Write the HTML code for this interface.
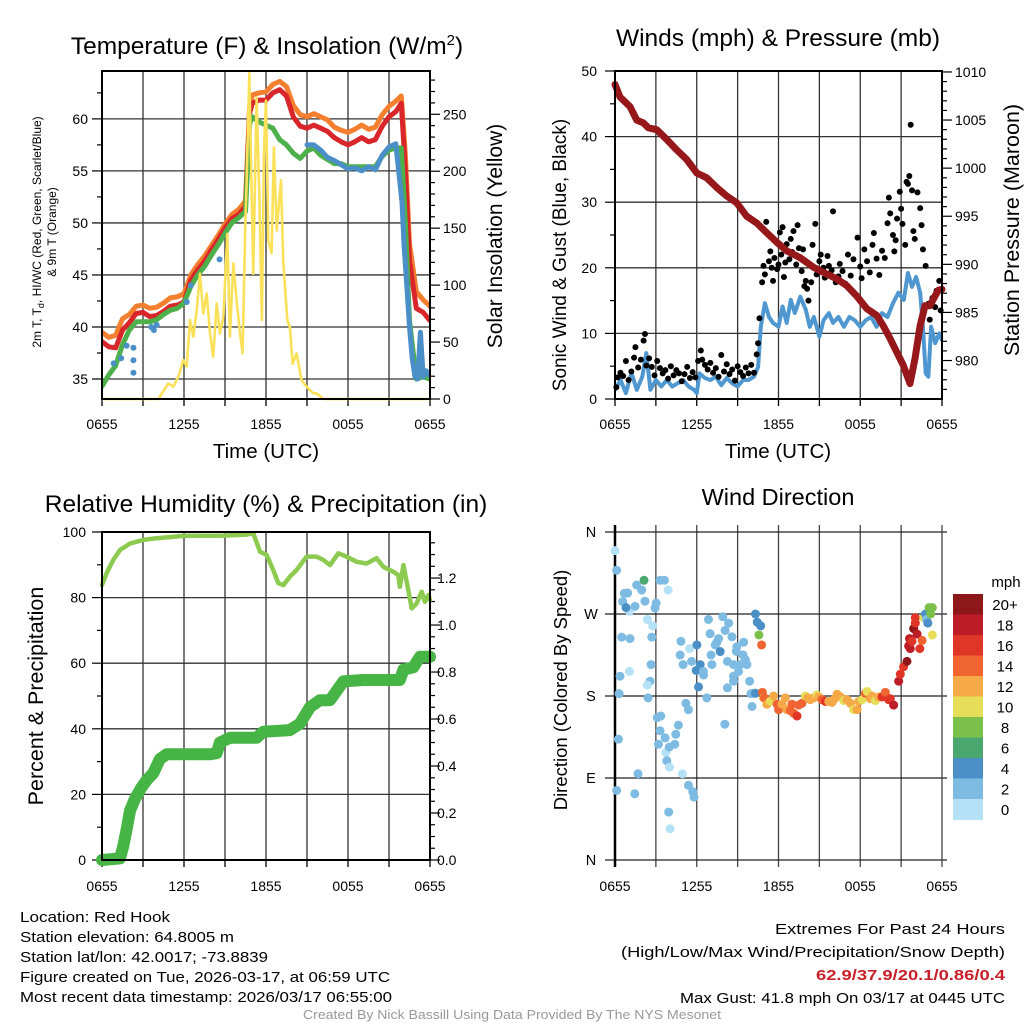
<!DOCTYPE html>
<html><head><meta charset="utf-8"><style>
html,body{margin:0;padding:0;background:#fff}
svg{display:block;font-family:"Liberation Sans",sans-serif}
</style></head><body>
<svg id="fig" width="1024" height="1024" viewBox="0 0 1024 1024" xmlns="http://www.w3.org/2000/svg">
<g id="g1"></g>
<g id="g2"></g>
<g id="g3"></g>
<g id="g4"></g>
<g font-size="15" fill="#000">
<text x="20" y="922" textLength="150" lengthAdjust="spacingAndGlyphs">Location: Red Hook</text>
<text x="20" y="942" textLength="214" lengthAdjust="spacingAndGlyphs">Station elevation: 64.8005 m</text>
<text x="20" y="962" textLength="248" lengthAdjust="spacingAndGlyphs">Station lat/lon: 42.0017; -73.8839</text>
<text x="20" y="982" textLength="370" lengthAdjust="spacingAndGlyphs">Figure created on Tue, 2026-03-17, at 06:59 UTC</text>
<text x="20" y="1002" textLength="372" lengthAdjust="spacingAndGlyphs">Most recent data timestamp: 2026/03/17 06:55:00</text>
</g>
<g font-size="15">
<text x="775" y="934" textLength="230" lengthAdjust="spacingAndGlyphs">Extremes For Past 24 Hours</text>
<text x="621" y="957" textLength="384" lengthAdjust="spacingAndGlyphs">(High/Low/Max Wind/Precipitation/Snow Depth)</text>
<text x="816" y="980" textLength="189" lengthAdjust="spacingAndGlyphs" fill="#c8202a" font-weight="bold">62.9/37.9/20.1/0.86/0.4</text>
<text x="680" y="1003" textLength="325" lengthAdjust="spacingAndGlyphs">Max Gust: 41.8 mph On 03/17 at 0445 UTC</text>
</g>
<text x="303" y="1019" font-size="12.5" fill="#999" textLength="418" lengthAdjust="spacingAndGlyphs">Created By Nick Bassill Using Data Provided By The NYS Mesonet</text>
</svg>
<script>
// ---------- Panel 1 data ----------
const tempHours=[0,0.5,1,1.5,2,2.5,3,3.5,4,4.5,5,5.5,6,6.5,7,7.5,8,8.5,9,9.5,10,10.5,10.8,11,11.5,12,12.5,13,13.5,14,14.5,15,15.5,16,16.5,17,17.5,18,18.5,19,19.5,20,20.5,21,21.5,21.9,22.2,22.5,23,23.5,24];
const temp2m=[38.6,38.1,38.0,39.7,40.4,41.3,41.4,41.0,41.1,41.5,42.0,42.1,42.4,44.5,45.5,46.3,47.4,48.4,49.5,50.4,50.8,51.6,60.5,61.5,61.8,61.8,62.5,62.8,62.2,60.2,59.3,59.1,59.4,59.1,58.8,58.2,57.8,57.5,57.8,58.2,57.8,58.0,59.3,60.2,60.7,61.5,55.0,46.4,41.8,41.4,40.6];
const temp9m=[39.5,39.0,39.2,40.8,41.2,42.0,42.1,41.8,41.9,42.3,42.8,42.9,43.2,45.0,46.0,46.8,47.8,48.8,49.9,50.8,51.3,52.1,61.2,62.3,62.5,62.6,63.3,63.6,63.1,61.3,60.4,60.2,60.5,60.2,59.9,59.2,58.9,58.7,59.0,59.4,59.0,59.2,60.4,61.2,61.7,62.2,56.5,48.0,43.4,42.6,42.0];
const tempHI=[34.3,35.4,36.3,38.3,39.7,40.5,40.5,40.5,40.7,41.2,41.6,41.8,42.3,43.9,45.0,45.8,46.9,47.9,49.0,50.0,50.5,51.1,59.5,60.2,59.7,59.4,59.1,58.0,57.5,56.7,56.2,56.9,57.2,56.5,56.1,55.7,55.7,55.4,55.4,55.4,55.4,55.4,56.4,57.0,57.2,57.2,50.0,40.6,35.0,35.2,35.0];
const wcDotHours=[0.85,1.4,1.8,2.3,2.3,2.3,3.6,3.8,4.0,6.2,6.5,8.6];
const wcDotTemps=[36.5,37.0,38.2,38.0,36.8,35.6,40.0,39.7,40.2,42.4,44.0,46.5];
const wcLineHours=[15.0,15.5,16.0,16.5,17.0,17.5,18.0,18.5,19.0,19.5,20.0,20.5,21.0,21.5,21.95,22.1,22.3,22.5,22.7,22.9,23.1,23.3,23.5,23.7,24];
const wcLineTemps=[57.5,57.5,57.0,56.3,56.0,55.6,55.2,55.3,55.0,55.4,55.1,56.5,57.3,57.6,52.0,48.0,44.0,40.0,37.0,35.2,35.0,39.5,35.2,35.8,35.3];
const solarHours=[0,4.12,4.85,5.22,5.58,5.95,6.2,6.44,6.68,6.93,7.17,7.41,7.66,7.9,8.14,8.39,8.63,8.88,9.17,9.36,9.61,9.85,10.1,10.29,10.49,10.58,10.78,11.07,11.31,11.51,11.7,11.85,12.0,12.17,12.41,12.58,12.78,13.1,13.26,13.56,13.75,13.95,14.24,14.6,14.97,15.46,15.7,16.19,24];
const solarVals=[0,0,13.7,10.8,19.6,34.2,28.4,69.3,54.7,78,110,75,92.7,57.6,37.1,83.9,57.6,72.2,145,54.7,119,86.8,57.6,40,157,189,286,110,265,180,69.3,215,262,139,128,221,148,192,122,69.3,63,31,40,16.7,10.8,5,5,0,0];
const p1XTicks=['0655','1255','1855','0055','0655'];
const p1LeftTicks=[35,40,45,50,55,60];
const p1RightTicks=[0,50,100,150,200,250];
// ---------- Panel 2 data ----------
const presHours=[0,0.37,1.1,1.59,2.08,2.45,3.06,3.79,4.53,5.26,6.0,6.73,7.46,8.2,8.93,9.66,10.4,11.13,11.87,12.6,13.58,14.56,15.54,16.27,17.0,17.74,18.47,19.2,19.69,20.18,20.67,21.16,21.65,22.02,22.39,22.75,23.12,23.37,23.73,24];
const presVals=[1008.7,1007.4,1006.4,1005.0,1004.7,1004.2,1004.0,1003.0,1001.9,1000.9,999.5,999.0,998.0,997.1,996.4,995.0,994.3,993.3,992.3,991.4,990.7,989.7,989.0,988.5,987.8,986.7,985.4,984.7,983.6,982.3,980.9,979.5,977.6,980.2,983.6,985.7,985.7,986.4,987.3,987.4];
const windHours=[0,0.4,0.8,1.2,1.6,2.0,2.3,2.6,3.0,3.4,3.8,4.2,4.6,5.0,5.4,5.8,6.0,6.2,6.6,7.0,7.4,7.8,8.2,8.6,9.0,9.4,9.8,10.2,10.5,10.7,11.0,11.3,11.6,12.0,12.3,12.6,12.9,13.2,13.6,14.0,14.3,14.6,15.0,15.3,15.7,16.0,16.4,16.8,17.2,17.6,18.0,18.4,18.8,19.2,19.6,20.0,20.4,20.8,21.2,21.5,21.8,22.1,22.4,22.6,22.8,23.0,23.2,23.5,23.8,24];
const windVals=[1.4,2.9,0.9,4.0,1.4,3.4,7.0,1.4,2.9,1.9,2.9,1.9,2.4,2.9,1.9,1.4,0.9,3.9,3.2,2.9,3.4,2.1,3.2,2.4,1.9,2.9,2.9,3.4,4.9,11.0,14.6,12.5,11.6,11.0,14.1,11.6,15.1,13.1,15.6,13.6,11.0,12.5,9.5,12.0,13.1,11.6,12.5,11.0,12.5,12.0,11.0,12.0,12.5,11.0,13.1,12.5,14.6,16.2,15.1,19.2,17.1,18.6,16.2,11.0,3.9,3.4,11.0,8.5,10.0,9.0];
const gustHours=[0.1,0.2,0.4,0.6,0.8,1.0,1.2,1.4,1.5,1.7,1.9,2.1,2.2,2.3,2.5,2.7,2.9,3.1,3.3,3.5,3.7,3.9,4.1,4.3,4.5,4.7,4.9,5.1,5.3,5.5,5.7,5.9,6.1,6.3,6.4,6.6,6.8,7.0,7.2,7.4,7.6,7.8,8.0,8.2,8.4,8.6,8.8,9.0,9.2,9.4,9.6,9.8,10.0,10.2,10.4,10.5,10.6,10.8,10.9,11.0,11.1,11.3,11.4,11.5,11.6,11.7,11.9,12.0,12.1,12.2,12.3,12.4,12.5,12.6,12.8,12.9,13.0,13.1,13.3,13.4,13.5,13.7,13.8,13.9,14.0,14.1,14.2,14.3,14.4,14.5,14.7,14.8,15.0,15.1,15.2,15.3,15.4,15.6,15.7,15.9,16.0,16.2,16.4,16.5,16.7,16.9,17.1,17.3,17.5,17.8,18.0,18.1,18.3,18.5,18.7,18.9,19.0,19.2,19.4,19.6,19.8,20.0,20.1,20.2,20.4,20.5,20.6,20.7,20.9,21.0,21.1,21.3,21.4,21.5,21.6,21.7,21.8,21.9,22.0,22.2,22.4,22.5,22.6,22.8,23.0,23.1,23.3,23.5,23.6,23.8,23.9];
const gustVals=[1.8,3.3,4.0,3.5,5.8,2.9,4.2,6.3,7.9,4.8,6.0,8.9,9.9,5.1,6.2,4.9,3.6,5.8,4.7,3.9,4.4,3.1,5.0,3.6,4.4,3.9,2.7,3.8,4.9,3.2,4.1,3.3,5.8,7.4,6.0,5.2,4.5,5.5,4.0,4.7,3.4,6.7,4.2,5.3,3.8,4.5,2.8,5.0,4.1,3.5,4.8,3.9,5.2,4.0,6.8,8.5,12.3,17.8,20.3,19.0,27.0,21.0,22.5,20.0,18.0,21.5,19.8,20.5,25.4,22.0,26.2,18.6,20.8,23.6,21.3,24.4,22.4,25.6,20.5,26.5,23.0,19.5,22.8,17.2,18.0,16.8,15.0,20.5,17.8,23.5,26.7,19.0,21.0,22.0,19.5,20.0,18.5,21.8,20.3,19.6,28.6,17.8,18.7,20.6,19.5,17.6,22.0,18.8,21.3,24.6,20.2,18.4,22.8,21.0,19.3,23.5,25.3,21.4,18.9,22.6,21.5,26.8,30.7,28.3,25.0,22.5,24.2,27.5,31.6,29.0,26.7,23.5,33.1,32.8,34.0,41.8,31.8,25.6,24.4,31.5,29.1,26.5,22.8,20.3,14.5,12.1,15.4,14.0,16.5,18.0,13.5];
const p2LeftTicks=[0,10,20,30,40,50];
const p2RightTicks=[980,985,990,995,1000,1005,1010];
// ---------- Panel 3 data ----------
const rhHours=[0,0.34,0.83,1.32,2.05,3.02,4.0,5.95,8.88,10.58,11.07,11.56,12.05,12.53,12.9,13.27,13.75,14.24,14.97,15.7,16.19,16.68,17.29,17.9,18.63,19.36,20.09,20.58,21.31,21.68,21.8,22.05,22.41,22.66,23.02,23.39,23.63,23.88,24];
const rhVals=[83.8,87.4,91.5,94.5,96.5,97.6,98.1,98.8,98.9,99.2,99.6,94.0,93.0,88.4,84.4,83.8,86.4,88.4,92.5,92.5,91.5,89.9,93.5,92.5,90.9,90.4,92.0,89.4,87.9,86.9,83.3,89.9,82.3,76.7,78.2,81.8,78.7,80.8,79.3];
const pcpHours=[0,1.32,1.56,1.8,2.05,2.41,2.9,3.27,3.75,4.24,4.73,6.44,7.9,8.39,8.63,9.36,11.31,11.8,13.75,14.48,15.21,15.94,16.68,17.17,17.66,19.12,21.8,22.05,22.78,23.26,24];
const pcpVals=[0,0.007,0.06,0.13,0.21,0.26,0.31,0.34,0.37,0.43,0.45,0.45,0.45,0.455,0.50,0.52,0.52,0.546,0.553,0.58,0.65,0.68,0.68,0.72,0.76,0.766,0.766,0.81,0.82,0.865,0.865];
const p3LeftTicks=[0,20,40,60,80,100];
const p3RightTicks=[0,0.2,0.4,0.6,0.8,1.0,1.2];
// ---------- Panel 4 data ----------
const dirHours=[0.0,0.12,0.56,0.69,0.93,1.06,0.81,1.47,1.59,1.96,2.13,2.2,2.37,0.49,1.1,1.06,0.37,0.3,0.25,0.12,1.45,1.69,2.43,2.57,2.37,2.65,2.7,2.77,3.02,2.94,3.11,3.36,3.19,3.31,3.68,3.73,3.8,3.99,3.94,4.04,3.31,3.63,3.9,4.0,4.39,4.46,4.65,4.84,4.78,5.0,5.2,5.39,4.95,5.39,5.71,5.8,5.47,5.62,5.96,6.13,6.01,6.25,6.49,6.5,6.74,6.86,6.98,7.11,7.05,7.36,7.48,7.6,7.72,7.91,8.08,8.25,8.25,8.06,8.34,8.58,8.7,8.7,8.7,8.9,8.94,9.07,9.19,9.39,9.44,9.56,9.68,9.88,9.98,10.06,10.19,10.31,10.31,10.44,10.69,10.56,10.76,10.82,10.9,10.97,11.15,11.4,11.64,11.89,12.01,12.26,12.5,12.62,12.87,12.99,13.11,13.36,13.48,13.72,13.97,14.15,14.33,14.58,14.82,14.95,15.19,15.44,15.68,15.93,16.05,16.3,16.55,16.79,17.03,17.28,17.52,17.77,17.89,18.13,18.38,18.5,18.74,18.87,19.11,19.36,19.6,19.84,20.09,20.21,20.45,20.82,20.94,21.18,21.43,21.55,21.62,21.67,21.8,21.92,22.04,22.04,22.17,22.37,22.54,22.66,22.78,22.86,22.96,23.05,23.17,23.29,23.29,23.33,23.47,23.57,23.66,23.51];
const dirDegs=[339.5,318,283.6,292.7,293,273,277,278.4,301.8,296.3,307,284,264,244.6,243,207,201.7,182.6,132.6,76.3,72.7,94.6,178,196.2,192,214.5,244.6,257,282,276.6,156.3,158,127,141.8,134,118,109,124,52.6,34.3,307,307,296.3,101.9,127,138,148,240,225,214.5,172,165,94.6,82,75,69,232,218,208,190,236,214.5,207,203,178,264,248.4,214.5,225,236,239,243,228.8,267,252,218,189,149,260,245,214.5,196.2,201.7,229,234,207,214.5,225,239,220,214.5,196.2,182.6,168.5,183,183,270,261,257,247,236,184,178,178,171,174.5,180,171,165,171,178,165,164,171,161,158,170,172,180,178,176,178,181,179,176,174,174,173,176,182,179,175,176,172,165,165,174,176,183,185,177,180,175,179,179,184,176,177,170,196.2,204,212,218,235,243,232,240,254,260,266,248,232,241,266,270,264,260,277,270,247,277];
const dirSpeeds=[0,2,2,2,2,0,4,2,2,2,6,2,0,2,2,0,2,2,2,2,2,2,2,2,0,2,2,0,2,2,2,2,2,2,2,0,2,2,2,0,2,2,0,0,2,2,2,2,2,2,2,2,0,2,2,2,0,2,4,4,4,4,2,2,2,2,2,2,2,2,2,2,4,2,2,2,2,2,2,2,2,2,2,2,2,2,2,2,2,2,2,2,2,2,2,4,4,4,4,8,14,14,12,14,12,10,12,14,14,12,12,12,14,14,14,16,14,14,10,12,12,12,10,12,14,16,12,12,12,12,12,10,12,12,10,12,12,10,14,10,12,12,10,12,16,14,16,16,18,18,16,16,20,18,18,18,16,20,16,16,18,16,14,10,4,2,4,8,8,10,8,10,8];
const speedBins=['0','2','4','6','8','10','12','14','16','18','20+'];
const speedColors=['#b5e1f6','#7ebbe3','#4a90c7','#4aa86e','#7cc04c','#e6de58','#f6a947','#ef6430','#df3627','#bd1d26','#8e1719'];
const dirLabels=['N','E','S','W','N'];

// ---------- helpers ----------
const NS='http://www.w3.org/2000/svg';
function mk(parent,tag,attrs){const e=document.createElementNS(NS,tag);for(const k in attrs)e.setAttribute(k,attrs[k]);parent.appendChild(e);return e;}
function lin(d0,d1,r0,r1){return v=>r0+(v-d0)/(d1-d0)*(r1-r0);}
function pathD(xs,ys,fx,fy){const n=Math.min(xs.length,ys.length);let s='';for(let i=0;i<n;i++){s+=(i?'L':'M')+fx(xs[i]).toFixed(1)+','+fy(ys[i]).toFixed(1);}return s;}
function txt(parent,x,y,s,size,anchor,extra){const t=mk(parent,'text',Object.assign({x:x,y:y,'font-size':size,'text-anchor':anchor||'middle'},extra||{}));t.textContent=s;return t;}

function frame(g,b,vgrid,hgridPx){
  const grid=mk(g,'g',{});
  
  
  vgrid.forEach(x=>mk(grid,'line',{x1:x,x2:x,y1:b.y0,y2:b.y1,stroke:'#333','stroke-width':1.3}));
  hgridPx.forEach(y=>mk(grid,'line',{x1:b.x0,x2:b.x1,y1:y,y2:y,stroke:'#333','stroke-width':1.3}));
  vgrid.concat([b.x0,b.x1]).forEach(x=>mk(grid,'line',{x1:x,x2:x,y1:b.y1,y2:b.y1+7,stroke:'#000','stroke-width':1.3}));
}
function box(g,b){const r=mk(g,'rect',{x:b.x0,y:b.y0,width:b.x1-b.x0,height:b.y1-b.y0,fill:'none',stroke:'#000','stroke-width':2});
  
  }
function xLabels(g,b,fx,yy){
  const gx=mk(g,'g',{});
  
  
  p1XTicks.forEach((s,i)=>txt(gx,fx(i*6),yy,s,14));
}
function vticks(g,b){const a=[];for(let h=3;h<24;h+=3)a.push(b.fx(h));return a;}

// ---------- Panel 1 ----------
(function(){
  const g=document.getElementById('g1');
  const b={x0:102,x1:430,y0:71,y1:399};
  b.fx=lin(0,24,b.x0,b.x1);
  const fy=lin(33.08,64.6,b.y1,b.y0), fr=lin(0,288,b.y1,b.y0);
  frame(g,b,vticks(g,b),p1LeftTicks.map(fy));
  const tk=mk(g,'g',{stroke:'#000','stroke-width':1.2});
  
  
  for(let v=35;v<=64;v+=2.5){const y=fy(v);const maj=v%5===0;mk(tk,'line',{x1:b.x0-(maj?10:5),x2:b.x0,y1:y,y2:y});}
  for(let v=0;v<=280;v+=10){const y=fr(v);const maj=v%50===0;mk(tk,'line',{x1:b.x1,x2:b.x1+(maj?10:5),y1:y,y2:y});}
  const cp=mk(g,'clipPath',{id:'c1'});mk(cp,'rect',{x:b.x0,y:b.y0-2,width:b.x1-b.x0,height:b.y1-b.y0+4});
  const lc=mk(g,'g',{fill:'none','stroke-linejoin':'round','stroke-linecap':'round'});
  lc.setAttribute('clip-path','url(#c1)');
  let e;
  e=mk(lc,'path',{d:pathD(tempHours,temp9m,b.fx,fy),stroke:'#f47f2f','stroke-width':5});
  
  
  e=mk(lc,'path',{d:pathD(tempHours,temp2m,b.fx,fy),stroke:'#d8262a','stroke-width':5});
  
  
  e=mk(lc,'path',{d:pathD(tempHours,tempHI,b.fx,fy),stroke:'#4db04a','stroke-width':5});
  
  
  const wc=mk(lc,'g',{fill:'#4a8fc8'});
  
  
  wcDotHours.forEach((h,i)=>mk(wc,'circle',{cx:b.fx(h),cy:fy(wcDotTemps[i]),r:3}));
  const wcl=mk(lc,'path',{d:pathD(wcLineHours,wcLineTemps,b.fx,fy),stroke:'#4a8fc8','stroke-width':5});
  
  
  e=mk(lc,'path',{d:pathD(solarHours,solarVals,b.fx,fr),stroke:'#fbe15a','stroke-width':2.6});
  
  
  box(g,b);
  const ly=mk(g,'g',{});
  p1LeftTicks.forEach(v=>txt(ly,88,fy(v)+5,String(v),14,'end'));
  const ry=mk(g,'g',{});
  p1RightTicks.forEach(v=>txt(ry,443,fr(v)+5,String(v),14,'start'));
  xLabels(g,b,b.fx,429);
  const t=mk(g,'text',{x:267,y:54,'font-size':24.5,'text-anchor':'middle'});
  
  t.innerHTML='Temperature (F) &amp; Insolation (W/m<tspan dy="-9" font-size="15">2</tspan><tspan dy="9">)</tspan>';
  e=txt(g,266,458,'Time (UTC)',20.5);
  e=mk(g,'text',{x:0,y:0,'font-size':12,'text-anchor':'middle',transform:'translate(41,232) rotate(-90)'});
  e.innerHTML='2m T, T<tspan dy="3" font-size="9">d</tspan><tspan dy="-3">, HI/WC (Red, Green, Scarlet/Blue)</tspan>';
  
  e=txt(g,0,0,'& 9m T (Orange)',12,'middle',{transform:'translate(56,232) rotate(-90)'});
  
  e=txt(g,0,0,'Solar Insolation (Yellow)',21,'middle',{transform:'translate(502,236) rotate(-90)'});
  
})();

// ---------- Panel 2 ----------
(function(){
  const g=document.getElementById('g2');
  const b={x0:615,x1:942,y0:71,y1:399};
  b.fx=lin(0,24,b.x0,b.x1);
  const fy=lin(0,50,b.y1,b.y0), fp=lin(976,1010.1,b.y1,b.y0);
  frame(g,b,vticks(g,b),[10,20,30,40].map(fy));
  const tk=mk(g,'g',{stroke:'#000','stroke-width':1.2});
  
  for(let v=0;v<=50;v+=5){const y=fy(v);const maj=v%10===0;mk(tk,'line',{x1:b.x0-(maj?10:5),x2:b.x0,y1:y,y2:y});}
  for(let v=977;v<=1010;v+=1){const y=fp(v);const maj=v%5===0;mk(tk,'line',{x1:b.x1,x2:b.x1+(maj?10:5),y1:y,y2:y});}
  const cp=mk(g,'clipPath',{id:'c2'});mk(cp,'rect',{x:b.x0,y:b.y0,width:b.x1-b.x0,height:b.y1-b.y0});
  const lc=mk(g,'g',{fill:'none','stroke-linejoin':'round','stroke-linecap':'round','clip-path':'url(#c2)'});
  let e=mk(lc,'path',{d:pathD(windHours,windVals,b.fx,fy),stroke:'#4f97d0','stroke-width':4});
  
  const gd=mk(g,'g',{fill:'#000'});
  
  const ng=Math.min(gustHours.length,gustVals.length);
  for(let i=0;i<ng;i++)mk(gd,'circle',{cx:b.fx(gustHours[i]),cy:fy(gustVals[i]),r:3});
  e=mk(g,'path',{d:pathD(presHours,presVals,b.fx,fp),stroke:'#96181a','stroke-width':7,fill:'none','stroke-linejoin':'round','stroke-linecap':'round'});
  
  box(g,b);
  const ly=mk(g,'g',{});
  p2LeftTicks.forEach(v=>txt(ly,597,fy(v)+5,String(v),14,'end'));
  const ry=mk(g,'g',{});
  p2RightTicks.forEach(v=>txt(ry,955,fp(v)+5,String(v),14,'start'));
  xLabels(g,b,b.fx,429);
  e=txt(g,778,46,'Winds (mph) & Pressure (mb)',24.5);
  e=txt(g,778,458,'Time (UTC)',20.5);
  e=txt(g,0,0,'Sonic Wind & Gust (Blue, Black)',19,'middle',{transform:'translate(566,255) rotate(-90)'});
  
  e=txt(g,0,0,'Station Pressure (Maroon)',21.5,'middle',{transform:'translate(1019,230) rotate(-90)'});
  
})();

// ---------- Panel 3 ----------
(function(){
  const g=document.getElementById('g3');
  const b={x0:102,x1:430,y0:532,y1:860};
  b.fx=lin(0,24,b.x0,b.x1);
  const fy=lin(0,100,b.y1,b.y0), fr=lin(0,1.396,b.y1,b.y0);
  frame(g,b,vticks(g,b),[20,40,60,80].map(fy));
  const tk=mk(g,'g',{stroke:'#000','stroke-width':1.2});
  
  for(let v=0;v<=100;v+=10){const y=fy(v);const maj=v%20===0;mk(tk,'line',{x1:b.x0-(maj?10:5),x2:b.x0,y1:y,y2:y});}
  for(let k=0;k<=27;k++){const v=k*0.05;const y=fr(v);const maj=k%4===0;mk(tk,'line',{x1:b.x1,x2:b.x1+(maj?10:5),y1:y,y2:y});}
  let e=mk(g,'path',{d:pathD(rhHours,rhVals,b.fx,fy),stroke:'#8ccb4f','stroke-width':4.5,fill:'none','stroke-linejoin':'round','stroke-linecap':'round'});
  
  e=mk(g,'path',{d:pathD(pcpHours,pcpVals,b.fx,fr),stroke:'#47b446','stroke-width':12,fill:'none','stroke-linejoin':'round','stroke-linecap':'round'});
  
  box(g,b);
  const ly=mk(g,'g',{});
  p3LeftTicks.forEach(v=>txt(ly,86,fy(v)+5,String(v),14,'end'));
  const ry=mk(g,'g',{});
  p3RightTicks.forEach(v=>txt(ry,437,fr(v)+5,v.toFixed(1),14,'start'));
  xLabels(g,b,b.fx,891);
  e=txt(g,266,512,'Relative Humidity (%) & Precipitation (in)',24.5);
  e=txt(g,0,0,'Percent & Precipitation',21.5,'middle',{transform:'translate(43,696) rotate(-90)'});
  
})();

// ---------- Panel 4 ----------
(function(){
  const g=document.getElementById('g4');
  const b={x0:615,x1:942,y0:532,y1:860};
  b.fx=lin(0,24,b.x0,b.x1);
  const fy=lin(0,360,b.y1,b.y0);
  const grid=mk(g,'g',{stroke:'#222','stroke-width':1.3});
  
  for(let h=3;h<24;h+=3)mk(grid,'line',{x1:b.fx(h),x2:b.fx(h),y1:b.y0-7,y2:b.y1+7,stroke:'#444'});
  [0,90,180,270,360].forEach(d=>mk(grid,'line',{x1:b.x0-10,x2:b.x1+5,y1:fy(d),y2:fy(d)}));
  mk(grid,'line',{x1:b.x0,x2:b.x0,y1:b.y0-7,y2:b.y1+7,'stroke-width':2.5,stroke:'#000'});
  mk(grid,'line',{x1:b.x1,x2:b.x1,y1:b.y0-7,y2:b.y1+7,stroke:'#444'});
  const pts=mk(g,'g',{});
  
  const nd=Math.min(dirHours.length,dirDegs.length,dirSpeeds.length);
  for(let i=0;i<nd;i++){const s=dirSpeeds[i];const k=Math.min(10,Math.max(0,Math.round(s/2)));
    mk(pts,'circle',{cx:b.fx(dirHours[i]),cy:fy(dirDegs[i]),r:4.5,fill:speedColors[k]});}
  const ly=mk(g,'g',{});
  dirLabels.forEach((s,i)=>txt(ly,591,fy(i*90)+5,s,14.5));
  xLabels(g,b,b.fx,891);
  let e=txt(g,778,505,'Wind Direction',23.5);
  e=txt(g,0,0,'Direction (Colored By Speed)',18.5,'middle',{transform:'translate(567,690) rotate(-90)'});
  
  const cb=mk(g,'g',{});
  
  const top=594,hh=20.5;
  for(let i=0;i<11;i++){const k=10-i;mk(cb,'rect',{x:953,y:top+i*hh,width:30,height:hh+0.5,fill:speedColors[k]});
    txt(cb,1005,top+i*hh+hh/2+5.5,speedBins[k],15);}
  e=txt(g,1006,587,'mph',15);
})();
</script>
</body></html>
